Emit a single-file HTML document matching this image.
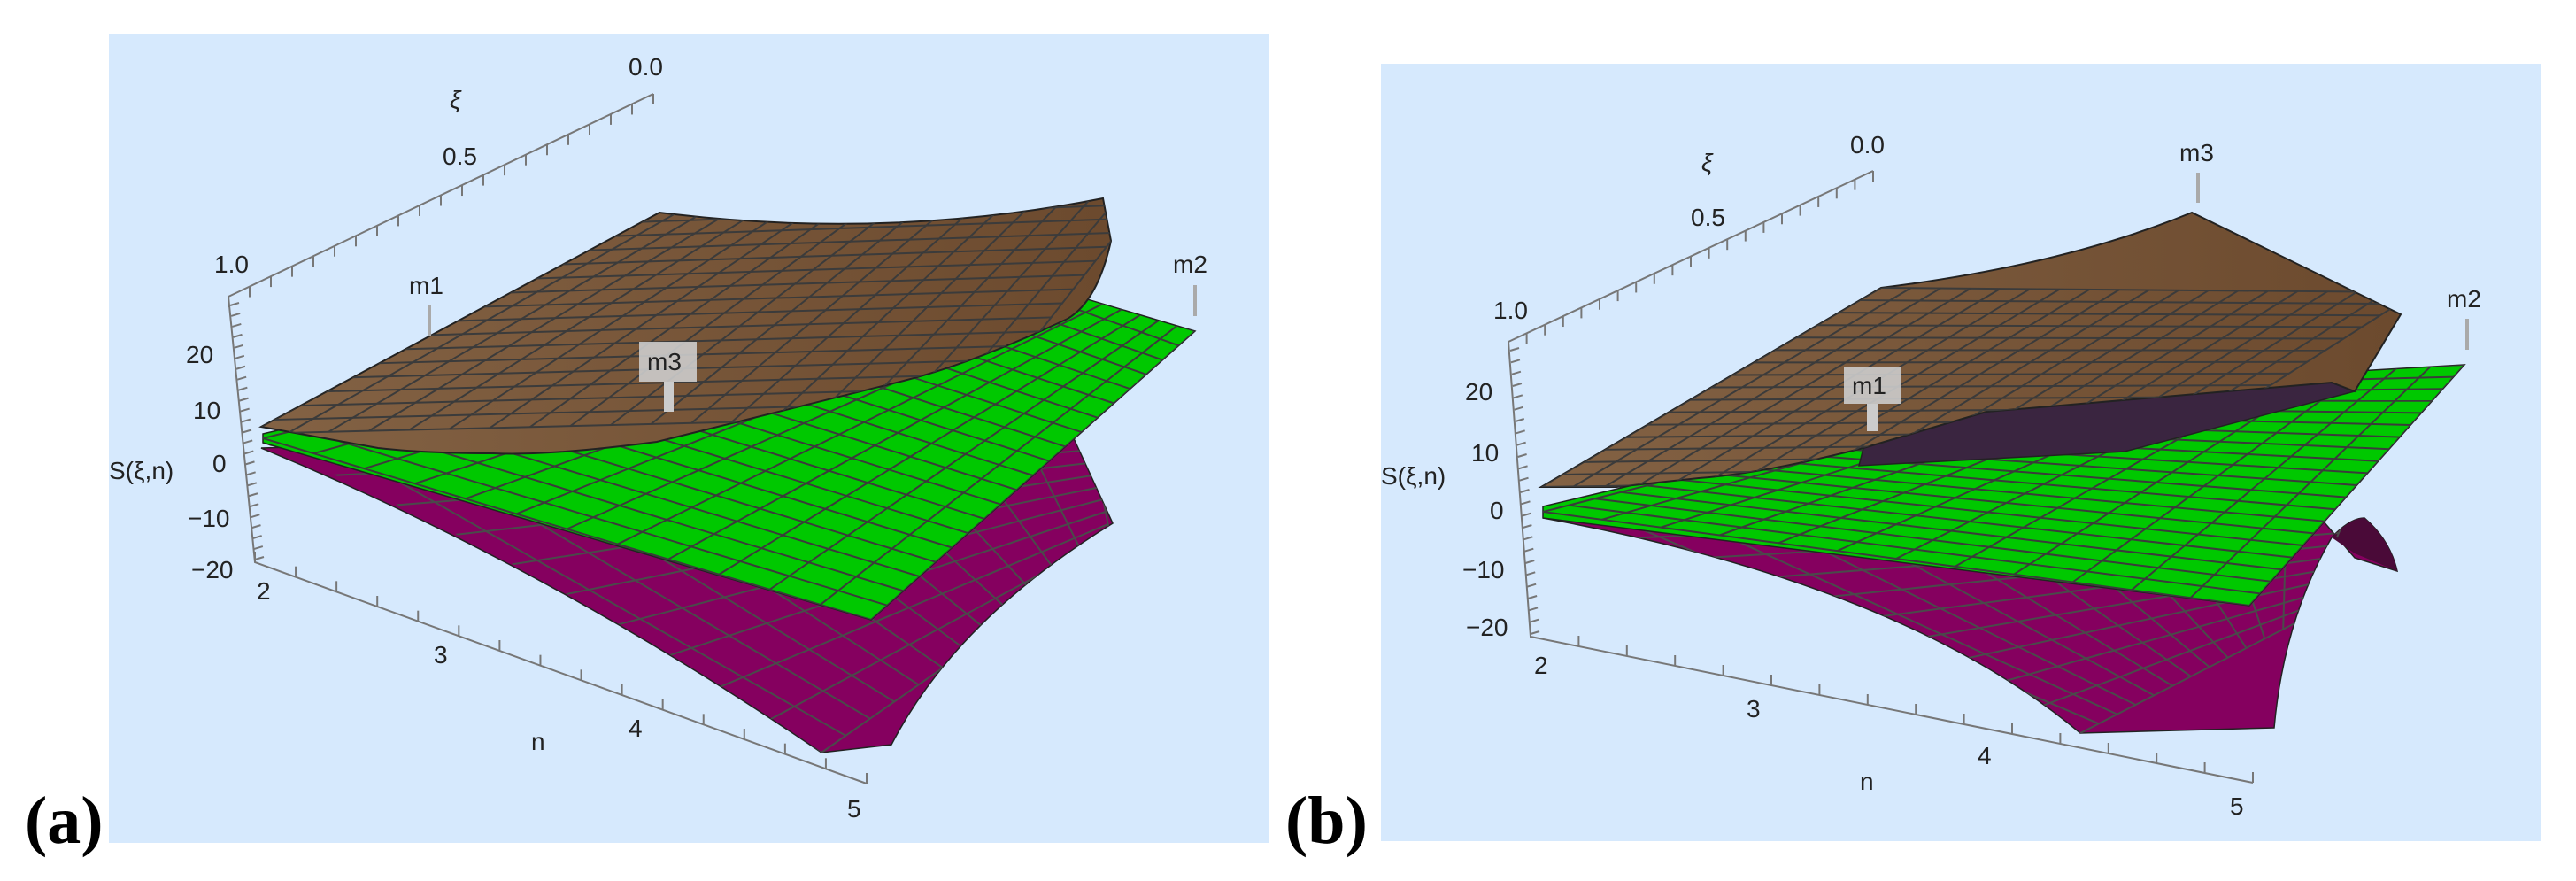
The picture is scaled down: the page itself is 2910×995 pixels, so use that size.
<!DOCTYPE html>
<html><head><meta charset="utf-8"><style>
body{margin:0;background:#fff}
svg text{font-family:"Liberation Sans",sans-serif;fill:#222}
</style></head><body>
<svg id="s" width="2910" height="990" viewBox="0 0 2910 990" xmlns="http://www.w3.org/2000/svg">
<defs>
<linearGradient id="br" x1="0" y1="0" x2="1" y2="0"><stop offset="0" stop-color="#836244"/><stop offset="1" stop-color="#6c4a2e"/></linearGradient>
<clipPath id="ca1"><path d="M295,482 L745,240 Q1000,272 1246,224 L1255,272 Q1240,340 1206,360 Q1100,410 1021,430 L742,499 Q620,515 557,512 Q480,512 427,506 Z"/></clipPath>
<clipPath id="ca2"><path d="M297,490 L1100,300 L1350,374 L984,700 L297,500 Z"/></clipPath>
<clipPath id="ca3"><path d="M297,500 Q620,640 928,850 L1007,841 Q1080,700 1257,591 L1206,480 L1100,520 L297,500 Z"/></clipPath>
<clipPath id="cb1"><path d="M1741,550 L2125,325 Q2330,300 2476,240 L2712,355 L2660,442 L2634,432 L2244,465 L2105,506 Q1990,535 1919,540 L1826,550 Z"/></clipPath>
<clipPath id="cb2"><path d="M1743,572 L2300,440 L2784,412 L2541,684 L1743,585 Z"/></clipPath>
<clipPath id="cb3"><path d="M1743,585 Q2150,660 2350,828 L2569,822 Q2580,700 2634,607 Q2655,585 2671,585 Q2700,610 2708,645 L2660,630 L2600,560 L1743,585 Z"/></clipPath>
</defs>
<!-- panel a -->
<rect x="123" y="38" width="1311" height="914" fill="#d6e9fd"/>
<text x="28" y="952" style="font-family:'Liberation Serif',serif;font-size:76px;font-weight:bold;fill:#000">(a)</text>
<path d="M295,506 Q620,640 928,850 L1007,841 Q1080,700 1257,591 L1206,480 Z" fill="#85005f" stroke="#222" stroke-width="1.5"/>
<g id="ga3" clip-path="url(#ca3)"></g>
<path d="M297,490 L1100,300 L1350,374 L984,700 L297,500 Z" fill="#00c800" stroke="#222" stroke-width="1.5"/>
<g id="ga2" clip-path="url(#ca2)"></g>
<path d="M295,482 L745,240 Q1000,272 1246,224 L1255,272 Q1240,340 1206,360 Q1100,410 1021,430 L742,499 Q620,515 557,512 Q480,512 427,506 Z" fill="url(#br)" stroke="#222" stroke-width="2"/>
<g id="ga1" clip-path="url(#ca1)"></g>
<g stroke="#777" stroke-width="2" fill="none">
<path d="M258,335 L738,106 M258,335 L288,635 L979,885"/>
</g>
<g id="tka"></g>
<g font-size="28">
<text x="710" y="85">0.0</text><text x="508" y="122" font-style="italic">ξ</text><text x="500" y="186">0.5</text><text x="242" y="308">1.0</text>
<text x="210" y="410">20</text><text x="218" y="473">10</text><text x="240" y="533">0</text><text x="212" y="595">−10</text><text x="216" y="653">−20</text>
<text x="123" y="541">S(ξ,n)</text>
<text x="290" y="677">2</text><text x="490" y="749">3</text><text x="710" y="832">4</text><text x="600" y="847">n</text><text x="957" y="923">5</text>
<text x="462" y="332">m1</text><text x="1325" y="308">m2</text>
</g>
<g stroke="#aaa" stroke-width="4"><path d="M485,344 V379 M1350,322 V357"/></g>
<rect x="722" y="386" width="65" height="45" fill="#ccc" opacity="0.9"/><rect x="750" y="431" width="11" height="34" fill="#ccc"/>
<text x="731" y="418" font-size="28">m3</text>
<!-- panel b -->
<rect x="1560" y="72" width="1310" height="878" fill="#d6e9fd"/>
<text x="1452" y="952" style="font-family:'Liberation Serif',serif;font-size:76px;font-weight:bold;fill:#000">(b)</text>
<path d="M1743,585 Q2150,660 2350,828 L2569,822 Q2580,700 2634,607 Q2655,585 2671,585 Q2700,610 2708,645 L2660,630 L2600,560 Z" fill="#85005f" stroke="#222" stroke-width="1.5"/>
<path d="M2634,607 Q2655,585 2671,585 Q2700,610 2708,645 L2660,625 Z" fill="#4a0a38"/>
<g id="gb3" clip-path="url(#cb3)"></g>
<path d="M1743,572 L2300,440 L2784,412 L2541,684 L1743,585 Z" fill="#00c800" stroke="#222" stroke-width="1.5"/>
<g id="gb2" clip-path="url(#cb2)"></g>
<path d="M2105,506 L2244,465 L2634,432 L2660,442 L2400,510 L2100,526 Z" fill="#3a2540" stroke="#222" stroke-width="1.5"/>
<path d="M1741,550 L2125,325 Q2330,300 2476,240 L2712,355 L2660,442 L2634,432 L2244,465 L2105,506 Q1990,535 1919,540 L1826,550 Z" fill="url(#br)" stroke="#222" stroke-width="2"/>
<g id="gb1" clip-path="url(#cb1)"></g>
<g stroke="#777" stroke-width="2" fill="none">
<path d="M1704,386 L2116,193 M1704,386 L1729,719 L2545,884"/>
</g>
<g id="tkb"></g>
<g font-size="28">
<text x="2090" y="173">0.0</text><text x="1922" y="193" font-style="italic">ξ</text><text x="1910" y="255">0.5</text><text x="1687" y="360">1.0</text>
<text x="1655" y="452">20</text><text x="1662" y="521">10</text><text x="1683" y="586">0</text><text x="1652" y="653">−10</text><text x="1656" y="718">−20</text>
<text x="1560" y="547">S(ξ,n)</text>
<text x="1733" y="761">2</text><text x="1973" y="810">3</text><text x="2234" y="863">4</text><text x="2101" y="892">n</text><text x="2519" y="920">5</text>
<text x="2462" y="182">m3</text><text x="2764" y="347">m2</text>
</g>
<g stroke="#aaa" stroke-width="4"><path d="M2483,195 V229 M2787,360 V395"/></g>
<rect x="2083" y="414" width="64" height="42" fill="#ccc" opacity="0.9"/><rect x="2109" y="456" width="12" height="31" fill="#ccc"/>
<text x="2092" y="445" font-size="28">m1</text>
</svg>
<script>
var NS="http://www.w3.org/2000/svg";
function L(g,x1,y1,x2,y2,c,w){var l=document.createElementNS(NS,"line");l.setAttribute("x1",x1);l.setAttribute("y1",y1);l.setAttribute("x2",x2);l.setAttribute("y2",y2);l.setAttribute("stroke",c);l.setAttribute("stroke-width",w);g.appendChild(l);}
function grid(id,p,n,m,c){var g=document.getElementById(id);
function P(u,v){return[(1-u)*(1-v)*p[0][0]+u*(1-v)*p[1][0]+u*v*p[2][0]+(1-u)*v*p[3][0],(1-u)*(1-v)*p[0][1]+u*(1-v)*p[1][1]+u*v*p[2][1]+(1-u)*v*p[3][1]];}
for(var i=0;i<=n;i++){var a=P(i/n,0),b=P(i/n,1);L(g,a[0],a[1],b[0],b[1],c,2);}
for(var j=0;j<=m;j++){var a=P(0,j/m),b=P(1,j/m);L(g,a[0],a[1],b[0],b[1],c,2);}}
grid("ga1",[[280,490],[745,235],[1300,215],[1100,470]],16,18,"#3b3b3b");
grid("ga2",[[297,495],[1120,290],[1350,374],[984,700]],20,12,"#3b3b3b");
grid("ga3",[[297,503],[1230,480],[1257,620],[928,850]],12,10,"#4a4a4a");
grid("gb1",[[1741,550],[2125,325],[2730,330],[2400,540]],16,18,"#3b3b3b");
grid("gb2",[[1743,578],[2330,430],[2784,412],[2541,684]],20,12,"#3b3b3b");
grid("gb3",[[1743,585],[2660,560],[2600,700],[2350,828]],12,10,"#4a4a4a");
function ticks(id,a,b,n,dx,dy){var g=document.getElementById(id);for(var i=0;i<=n;i++){var t=i/n,x=a[0]+(b[0]-a[0])*t,y=a[1]+(b[1]-a[1])*t;L(g,x,y,x+dx,y+dy,"#777",2);}}
ticks("tka",[258,335],[738,106],20,0,12);ticks("tka",[260,345],[288,632],24,10,-3);ticks("tka",[288,635],[979,885],15,0,-12);
ticks("tkb",[1704,386],[2116,193],20,0,12);ticks("tkb",[1706,396],[1729,716],24,10,-3);ticks("tkb",[1729,719],[2545,884],15,0,-12);
</script>
</body></html>
